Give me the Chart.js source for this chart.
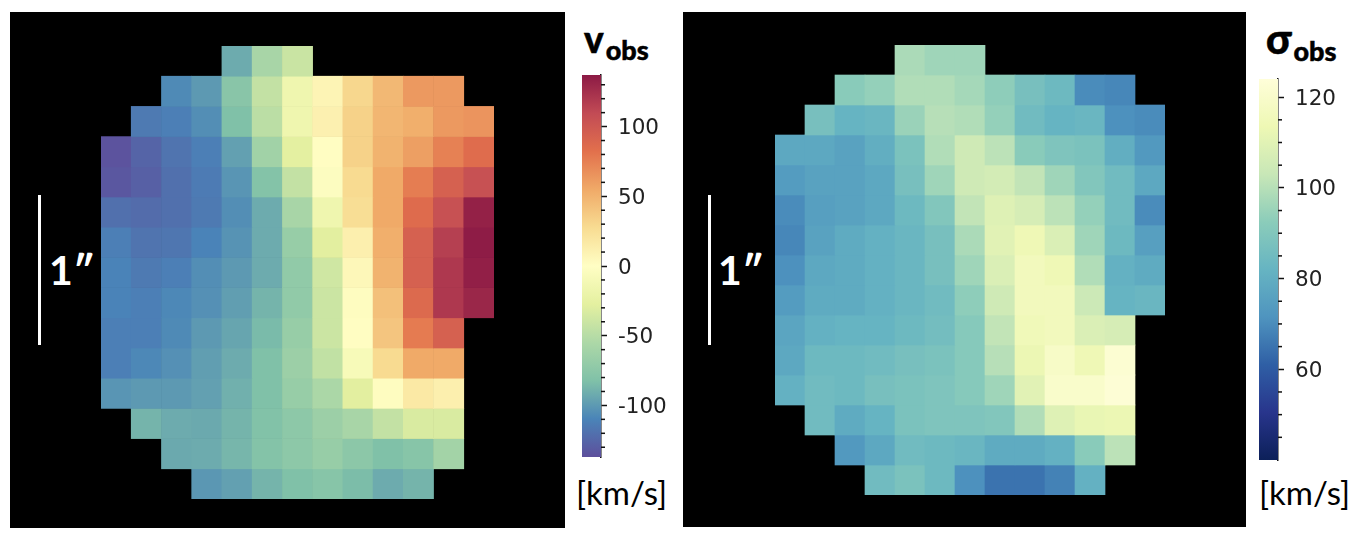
<!DOCTYPE html>
<html>
<head>
<meta charset="utf-8">
<script src="https://cdn.jsdelivr.net/npm/chart.js@4"></script>
<style>
  html, body { margin: 0; background: #fff; }
  body { position: relative; width: 1362px; height: 536px; overflow: hidden; }
  .panel { position: absolute; background: #000; }
  canvas { position: absolute; }
  .bar { position: absolute; background: #fff; width: 3px; height: 150px; top: 195px; }
  .arcsec { position: absolute; color: #fff; font: bold 41px Lato, sans-serif; top: 245px; }
  .title { position: absolute; color: #000; font: 900 37px Lato, "Noto Sans", sans-serif; line-height: 40px; top: 19px; white-space: nowrap; -webkit-text-stroke: 0.5px #000; }
  .title span { font-size: 27px; position: relative; top: 7px; margin-left: 2px; }
  .unit { position: absolute; color: #000; font: 33px Lato, sans-serif; top: 472px; white-space: nowrap; }
</style>
</head>
<body>
<div class="panel" style="left:10px;top:12px;width:555px;height:516px"></div>
<div class="panel" style="left:683px;top:12px;width:563px;height:515px"></div>

<canvas id="vobsMap" width="393" height="453" style="left:101px;top:46px"></canvas>
<canvas id="sigmaMap" width="390" height="450" style="left:775px;top:45px"></canvas>
<canvas id="vobsBar" width="95" height="386" style="left:582px;top:73px"></canvas>
<canvas id="sigmaBar" width="95" height="385" style="left:1259px;top:77px"></canvas>

<div class="bar" style="left:38px"></div>
<div class="arcsec" style="left:49px">1″</div>
<div class="bar" style="left:708px"></div>
<div class="arcsec" style="left:718px">1″</div>

<div class="title" style="left:584px">v<span>obs</span></div>
<div class="title" style="left:1266px;font-size:41px">σ<span>obs</span></div>
<div class="unit" style="left:576px">[km/s]</div>
<div class="unit" style="left:1259px">[km/s]</div>

<script>
const columns = ['0', '1', '2', '3', '4', '5', '6', '7', '8', '9', '10', '11', '12'];
const rows = [0, 1, 2, 3, 4, 5, 6, 7, 8, 9, 10, 11, 12, 13, 14];
const _ = null;

// velocity map, km/s, top row first
const vobsValues = [
  [_, _, _, _, -92, -58, -41, _, _, _, _, _, _],
  [_, _, -107, -100, -77, -44, -16, 8, 30, 47, 63, 63, _],
  [_, -115, -112, -105, -82, -48, -16, 11, 33, 48, 52, 63, 65],
  [-135, -126, -118, -112, -97, -62, -27, 1, 33, 50, 60, 74, 85],
  [-133, -128, -120, -114, -102, -80, -44, -3, 28, 55, 76, 93, 105],
  [-120, -122, -120, -115, -105, -92, -58, -16, 26, 55, 86, 105, 133],
  [-112, -118, -117, -110, -103, -92, -68, -28, 12, 52, 93, 116, 136],
  [-110, -115, -112, -105, -100, -92, -72, -38, 6, 50, 93, 120, 134],
  [-110, -112, -108, -104, -98, -88, -72, -40, 2, 43, 87, 120, 130],
  [-112, -112, -107, -100, -95, -85, -68, -40, 1, 40, 77, 93, _],
  [-112, -108, -104, -98, -92, -82, -65, -45, -8, 28, 55, 55, _],
  [-102, -100, -100, -97, -90, -82, -68, -56, -28, 2, 17, 12, _],
  [_, -88, -92, -93, -88, -81, -74, -65, -58, -44, -33, -33, _],
  [_, _, -93, -92, -87, -80, -74, -68, -75, -82, -78, -61, _],
  [_, _, _, -101, -97, -88, -82, -78, -84, -92, -88, _, _]
];

// dispersion map, km/s, top row first
const sigmaValues = [
  [_, _, _, _, 98, 96, 96, _, _, _, _, _, _],
  [_, _, 92, 94, 99, 99, 97, 93, 87, 84, 70, 69, _],
  [_, 87, 82, 83, 95, 100, 99, 94, 85, 82, 83, 71, 70],
  [78, 78, 76, 80, 88, 99, 105, 101, 92, 89, 88, 80, 73],
  [74, 76, 76, 78, 87, 96, 105, 106, 102, 96, 90, 85, 78],
  [70, 75, 76, 78, 84, 90, 102, 109, 107, 101, 94, 85, 70],
  [69, 76, 79, 81, 83, 87, 98, 110, 114, 108, 96, 84, 75],
  [71, 78, 79, 81, 83, 87, 96, 108, 116, 114, 99, 81, 79],
  [74, 79, 79, 81, 83, 85, 93, 105, 116, 116, 104, 82, 83],
  [77, 81, 82, 82, 84, 86, 91, 102, 115, 116, 108, 107, _],
  [78, 84, 84, 85, 87, 88, 91, 100, 113, 119, 114, 122, _],
  [81, 85, 84, 87, 88, 89, 91, 96, 110, 120, 120, 123, _],
  [_, 85, 79, 82, 88, 89, 89, 90, 99, 109, 112, 113, _],
  [_, _, 73, 78, 85, 84, 83, 79, 79, 81, 92, 101, _],
  [_, _, _, 85, 88, 84, 71, 65, 65, 68, 81, _, _]
];

const vobsRange = [-137, 137];
const sigmaRange = [40, 124];
const vobsTicks = [-100, -50, 0, 50, 100];
const vobsMinor = [-130, -120, -110, -90, -80, -70, -60, -40, -30, -20, -10, 10, 20, 30, 40, 60, 70, 80, 90, 110, 120, 130];
const sigmaTicks = [60, 80, 100, 120];
const sigmaMinor = [45, 50, 55, 65, 70, 75, 85, 90, 95, 105, 110, 115];

// colormaps as they look in the picture (Spectral_r and YlGnBu_r, a bit washed out)
const spectral = ['#5d4f9c', '#4a84b8', '#80c1a8', '#add8a7', '#e4f0a0', '#fffec4', '#f8dc92', '#f0aa68', '#e2704c', '#c24b55', '#8c1a45'];
const ylgnbu = ['#0c2059', '#28358c', '#2f5fa5', '#4f94bf', '#66b4c2', '#8bccba', '#c8e7b7', '#eef8b4', '#fffed9'];

function hexToRgb(hex) {
  return [1, 3, 5].map(i => parseInt(hex.slice(i, i + 2), 16));
}

function colorAt(stops, range, value) {
  const t = Math.min(1, Math.max(0, (value - range[0]) / (range[1] - range[0]))) * (stops.length - 1);
  const i = Math.min(stops.length - 2, Math.floor(t));
  const a = hexToRgb(stops[i]), b = hexToRgb(stops[i + 1]);
  const c = a.map((v, k) => Math.round(v + (b[k] - v) * (t - i)));
  return `rgb(${c[0]},${c[1]},${c[2]})`;
}

// one floating-bar dataset per row of pixels
function createMap(id, values, stops, range) {
  new Chart(document.getElementById(id), {
    type: 'bar',
    data: {
      labels: columns,
      datasets: rows.map(r => ({
        data: values[r].map(v => v === null ? null : [r, r + 1]),
        backgroundColor: values[r].map(v => v === null ? 'transparent' : colorAt(stops, range, v)),
        barPercentage: 1,
        categoryPercentage: 1,
        grouped: false
      }))
    },
    options: {
      responsive: false,
      animation: false,
      layout: { padding: 0 },
      plugins: { legend: { display: false }, tooltip: { enabled: false } },
      scales: {
        x: { display: false },
        y: { display: false, reverse: true, min: 0, max: rows.length }
      }
    }
  });
}

const minorTickPlugin = {
  id: 'minorTicks',
  afterDraw(chart, args, opts) {
    const { ctx, scales } = chart;
    const x = chart.chartArea.right;
    ctx.save();
    ctx.strokeStyle = '#111';
    ctx.lineWidth = 1.5;
    opts.values.forEach(v => {
      const y = scales.y.getPixelForValue(v);
      ctx.beginPath();
      ctx.moveTo(x, y);
      ctx.lineTo(x + 4, y);
      ctx.stroke();
    });
    ctx.restore();
  }
};

function createColorbar(id, stops, range, ticks, minor) {
  new Chart(document.getElementById(id), {
    type: 'bar',
    data: {
      labels: [''],
      datasets: [{
        data: [range],
        barPercentage: 1,
        categoryPercentage: 1,
        backgroundColor(context) {
          const area = context.chart.chartArea;
          if (!area) return stops[0];
          const g = context.chart.ctx.createLinearGradient(0, area.bottom, 0, area.top);
          stops.forEach((s, i) => g.addColorStop(i / (stops.length - 1), s));
          return g;
        }
      }]
    },
    options: {
      responsive: false,
      animation: false,
      layout: { padding: { top: 2, bottom: 2 } },
      plugins: { legend: { display: false }, tooltip: { enabled: false }, minorTicks: { values: minor } },
      scales: {
        x: { display: false },
        y: {
          position: 'right',
          min: range[0],
          max: range[1],
          afterBuildTicks(scale) { scale.ticks = ticks.map(v => ({ value: v })); },
          // keep the bar at full height, labels never reach its ends here
          afterFit(scale) {
            scale.width = 76;
            scale.paddingTop = 0;
            scale.paddingBottom = 0;
          },
          grid: { drawOnChartArea: false, tickLength: 6, tickColor: '#111', tickWidth: 1.5 },
          border: { color: '#111', width: 1.5 },
          ticks: {
            color: '#222',
            padding: 11,
            labelOffset: 2,
            font: { family: 'DejaVu Sans', size: 21.5 },
            callback: v => String(v)
          }
        }
      }
    },
    plugins: [minorTickPlugin]
  });
}

createMap('vobsMap', vobsValues, spectral, vobsRange);
createMap('sigmaMap', sigmaValues, ylgnbu, sigmaRange);
createColorbar('vobsBar', spectral, vobsRange, vobsTicks, vobsMinor);
createColorbar('sigmaBar', ylgnbu, sigmaRange, sigmaTicks, sigmaMinor);
</script>
</body>
</html>
